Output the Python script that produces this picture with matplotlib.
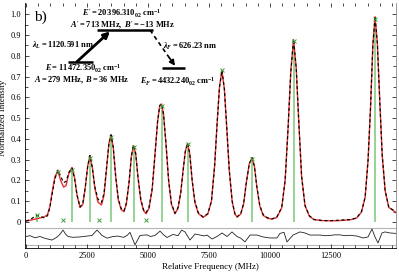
import matplotlib
matplotlib.use("Agg")
import matplotlib.pyplot as plt
from matplotlib.ticker import MultipleLocator, FixedLocator, FixedFormatter

plt.rcParams['font.family'] = ['Liberation Serif', 'DejaVu Serif']
plt.rcParams['mathtext.fontset'] = 'custom'
plt.rcParams['mathtext.rm'] = 'Liberation Serif:bold'
plt.rcParams['mathtext.it'] = 'Liberation Serif:italic:bold'
plt.rcParams['mathtext.bf'] = 'Liberation Serif:bold'

# ---------------- data ----------------
freq = [0, 150, 300, 450, 600, 750, 880, 980, 1080, 1190, 1310, 1420, 1540, 1640, 1760, 1885,
        1990, 2090, 2215, 2330, 2430, 2530, 2620, 2720, 2820, 2950, 3095, 3200, 3300, 3400,
        3485, 3575, 3675, 3785, 3900, 4015, 4110, 4220, 4320, 4405, 4495, 4595, 4705, 4815,
        4920, 5040, 5170, 5290, 5390, 5480, 5555, 5635, 5735, 5845, 5960, 6105, 6230, 6340,
        6440, 6530, 6620, 6710, 6810, 6920, 7060, 7255, 7450, 7600, 7730, 7830, 7930, 8030,
        8130, 8230, 8330, 8450, 8560, 8650, 8800, 8920, 9030, 9150, 9260, 9360, 9460, 9580,
        9720, 9900, 10080, 10280, 10480, 10620, 10740, 10850, 10965, 11075, 11185, 11295,
        11435, 11615, 11800, 12100, 12400, 12700, 13000, 13300, 13550, 13750, 13900, 14020,
        14120, 14215, 14305, 14400, 14500, 14600, 14720, 14870, 15020, 15160]

measured = [0.005, 0.01, 0.022, 0.032, 0.027, 0.02, 0.03, 0.07, 0.14, 0.21, 0.25, 0.22, 0.19, 0.195, 0.24, 0.26,
            0.21, 0.13, 0.072, 0.09, 0.17, 0.27, 0.32, 0.26, 0.17, 0.11, 0.095, 0.14, 0.26, 0.38,
            0.42, 0.36, 0.22, 0.11, 0.065, 0.053, 0.09, 0.19, 0.32, 0.37, 0.33, 0.21, 0.11, 0.06,
            0.045, 0.07, 0.16, 0.33, 0.48, 0.56, 0.57, 0.52, 0.38, 0.2, 0.09, 0.042, 0.07, 0.14,
            0.25, 0.34, 0.38, 0.33, 0.2, 0.1, 0.045, 0.025, 0.04, 0.1, 0.27, 0.47, 0.65, 0.73,
            0.64, 0.45, 0.25, 0.1, 0.04, 0.025, 0.04, 0.09, 0.19, 0.28, 0.31, 0.27, 0.17, 0.08,
            0.035, 0.02, 0.015, 0.025, 0.07, 0.2, 0.45, 0.72, 0.88, 0.74, 0.47, 0.22,
            0.08, 0.03, 0.012, 0.008, 0.006, 0.008, 0.01, 0.012, 0.02, 0.05, 0.12, 0.3,
            0.55, 0.85, 0.99, 0.86, 0.58, 0.32, 0.15, 0.07, 0.06, 0.048]

fitted = [0.005, 0.008, 0.012, 0.016, 0.02, 0.025, 0.035, 0.075, 0.15, 0.22, 0.245, 0.2, 0.168, 0.175, 0.235, 0.262,
          0.215, 0.13, 0.07, 0.085, 0.165, 0.27, 0.318, 0.262, 0.165, 0.095, 0.082, 0.13, 0.255, 0.38,
          0.418, 0.36, 0.22, 0.105, 0.06, 0.05, 0.085, 0.185, 0.315, 0.368, 0.33, 0.21, 0.105, 0.055,
          0.04, 0.065, 0.155, 0.33, 0.48, 0.56, 0.568, 0.52, 0.38, 0.2, 0.085, 0.04, 0.065, 0.14,
          0.25, 0.34, 0.378, 0.33, 0.2, 0.095, 0.042, 0.022, 0.038, 0.1, 0.27, 0.47, 0.65, 0.728,
          0.64, 0.45, 0.25, 0.098, 0.04, 0.024, 0.038, 0.088, 0.19, 0.28, 0.308, 0.27, 0.17, 0.078,
          0.032, 0.018, 0.014, 0.022, 0.068, 0.2, 0.45, 0.72, 0.878, 0.74, 0.47, 0.22,
          0.078, 0.028, 0.012, 0.007, 0.006, 0.006, 0.008, 0.011, 0.019, 0.048, 0.12, 0.3,
          0.55, 0.85, 0.988, 0.86, 0.58, 0.32, 0.15, 0.07, 0.058, 0.045]

# hyperfine component sticks
stick_freq = [463, 1873, 2623, 3484, 4439, 5561, 6627, 9250, 10996, 14303]
stick_int = [0.035, 0.25, 0.31, 0.41, 0.36, 0.56, 0.375, 0.305, 0.87, 0.975]
# extra component markers (no stick)
mark_freq = [1310, 8030, 1516, 2992, 4918]
mark_int = [0.24, 0.73, 0.012, 0.012, 0.012]

# residuals
res_freq = [0, 164, 369, 574, 779, 1066, 1270, 1400, 1516, 1620, 1721, 1926, 2213, 2500, 2705,
            2910, 3000, 3115, 3320, 3566, 3770, 4000, 4150, 4262, 4467, 4672, 4959, 5100, 5287,
            5492, 5640, 5779, 6025, 6230, 6381, 6516, 6721, 6926, 7131, 7300, 7418, 7623, 7828,
            8033, 8238, 8443, 8648, 8800, 8975, 9180, 9467, 9713, 10000, 10287, 10410, 10574,
            10697, 10943, 11230, 11434, 11639, 12049, 12250, 12459, 12650, 12869, 13050, 13279,
            13566, 13811, 14016, 14180, 14303, 14426, 14590, 14713, 14918, 15160]
residual = [0.0, 0.004, -0.006, 0.0, -0.009, -0.017, -0.003, 0.012, 0.031, 0.012, 0.0, -0.004, -0.002, 0.002, 0.005,
            0.031, 0.02, 0.005, -0.008, 0.0, 0.002, -0.004, 0.006, 0.02, -0.04, 0.005, 0.008, 0.0, 0.005,
            0.026, 0.008, -0.005, 0.01, 0.004, 0.031, 0.022, -0.017, 0.012, 0.007, 0.003, 0.007, -0.012, 0.0,
            0.017, 0.0, 0.022, 0.0, -0.008, -0.026, 0.007, 0.007, -0.002, -0.007, -0.007, 0.015, 0.02,
            -0.026, 0.007, 0.022, 0.017, 0.007, 0.007, 0.004, 0.005, 0.008, 0.008, 0.004, 0.006,
            0.002, -0.007, -0.002, 0.036, -0.002, -0.031, 0.017, 0.022, 0.017, 0.015]

xticks = [0, 2500, 5000, 7500, 10000, 12500]
xticklabels = ['0', '2500', '5000', '7500', '10000', '12500']
yticks = [0, 0.1, 0.2, 0.3, 0.4, 0.5, 0.6, 0.7, 0.8, 0.9, 1.0]
yticklabels = ['0', '0.1', '0.2', '0.3', '0.4', '0.5', '0.6', '0.7', '0.8', '0.9', '1.0']

# ---------------- layout ----------------
RES_OFFSET = -0.0697
RES_BAND = 0.041

fig = plt.figure(figsize=(3.99, 2.72), dpi=100)
ax = fig.add_axes([25 / 399, 1 - 248 / 272, 371 / 399, 245 / 272])
ax.set_xlim(-41, 15164)
ax.set_ylim(-0.125, 1.054)

# sticks
ax.vlines(stick_freq, 0, stick_int, color='#8ed08e', lw=1.3, zorder=1)
ax.plot(stick_freq, stick_int, 'x', color='#3f9f3f', ms=3, mew=0.7, zorder=4)
ax.plot(mark_freq, mark_int, 'x', color='#3f9f3f', ms=3, mew=0.7, zorder=4)

# spectrum
ax.plot(freq, fitted, '-', color='#e8322e', lw=1.0, zorder=2)
ax.plot(freq, measured, color='black', lw=0.85, dashes=(2.6, 2.2), zorder=3)

# residual band
ax.axhline(RES_OFFSET + RES_BAND, color='#b5b5b5', lw=0.8, zorder=0)
ax.axhline(RES_OFFSET - RES_BAND, color='#b5b5b5', lw=0.8, zorder=0)
ax.plot(res_freq, [RES_OFFSET + r for r in residual], color='#222222', lw=0.6, zorder=3)

# axes styling
ax.spines['top'].set_visible(False)
ax.spines['right'].set_color('#8a8a8a')
ax.spines['left'].set_linewidth(0.6)
ax.spines['bottom'].set_linewidth(0.6)
ax.spines['right'].set_linewidth(0.6)

ax.xaxis.set_major_locator(FixedLocator(xticks))
ax.xaxis.set_major_formatter(FixedFormatter(xticklabels))
ax.xaxis.set_minor_locator(MultipleLocator(500))
ax.yaxis.set_major_locator(FixedLocator(yticks))
ax.yaxis.set_major_formatter(FixedFormatter(yticklabels))
ax.yaxis.set_minor_locator(FixedLocator([i * 0.05 for i in range(0, 21)]))

ax.tick_params(axis='both', which='both', direction='in', labelsize=6, pad=3, width=0.5)
ax.tick_params(axis='x', which='both', top=True)
ax.tick_params(axis='y', which='both', right=True)
ax.tick_params(axis='both', which='major', length=3)
ax.tick_params(axis='both', which='minor', length=2)

ax.set_xlabel('Relative Frequency (MHz)', fontsize=6.5, labelpad=2)
ax.set_ylabel('Normalized Intensity', fontsize=6.5)
ax.yaxis.set_label_coords(-0.048, 0.53)

# ---------------- energy level diagram ----------------
tfs = 6
ax.text(330, 0.985, 'b)', fontsize=11, ha='left', va='center', family=['Liberation Serif', 'DejaVu Serif'])

ax.text(3934, 1.0, r"$E' = 20\,396.310_{02}\ \mathrm{cm}^{-1}$", fontsize=tfs, ha='center', va='center')
ax.text(3975, 0.946, r"$A' = 713\ \mathrm{MHz},\ B' = -13\ \mathrm{MHz}$", fontsize=tfs, ha='center', va='center')
ax.plot([2910, 5205], [0.924, 0.924], color='black', lw=1.8, solid_capstyle='butt')

ax.text(246, 0.852, r"$\lambda_L = 1120.591\ \mathrm{nm}$", fontsize=tfs, ha='left', va='center')
ax.plot([1721, 2746], [0.770, 0.770], color='black', lw=1.8, solid_capstyle='butt')
ax.annotate('', xy=(3443, 0.917), xytext=(2090, 0.772),
            arrowprops=dict(arrowstyle='-|>', color='black', lw=2.0, mutation_scale=9, shrinkA=0, shrinkB=0))
ax.text(2336, 0.736, r"$E = 11\,472.350_{02}\ \mathrm{cm}^{-1}$", fontsize=tfs, ha='center', va='center')
ax.text(2295, 0.680, r"$A = 279\ \mathrm{MHz},\ B = 36\ \mathrm{MHz}$", fontsize=tfs, ha='center', va='center')

ax.plot([5082, 5900], [0.924, 0.786], color='black', lw=1.2, dashes=(2.5, 2.0))
ax.annotate('', xy=(6107, 0.752), xytext=(5880, 0.790),
            arrowprops=dict(arrowstyle='-|>', color='black', lw=1.2, mutation_scale=8, shrinkA=0, shrinkB=0))
ax.plot([5574, 6516], [0.741, 0.741], color='black', lw=1.8, solid_capstyle='butt')
ax.text(5615, 0.843, r"$\lambda_F = 626.23\ \mathrm{nm}$", fontsize=tfs, ha='left', va='center')
ax.text(6209, 0.672, r"$E_F = 4432.240_{02}\ \mathrm{cm}^{-1}$", fontsize=tfs, ha='center', va='center')

fig.savefig('out.png', dpi=100)
